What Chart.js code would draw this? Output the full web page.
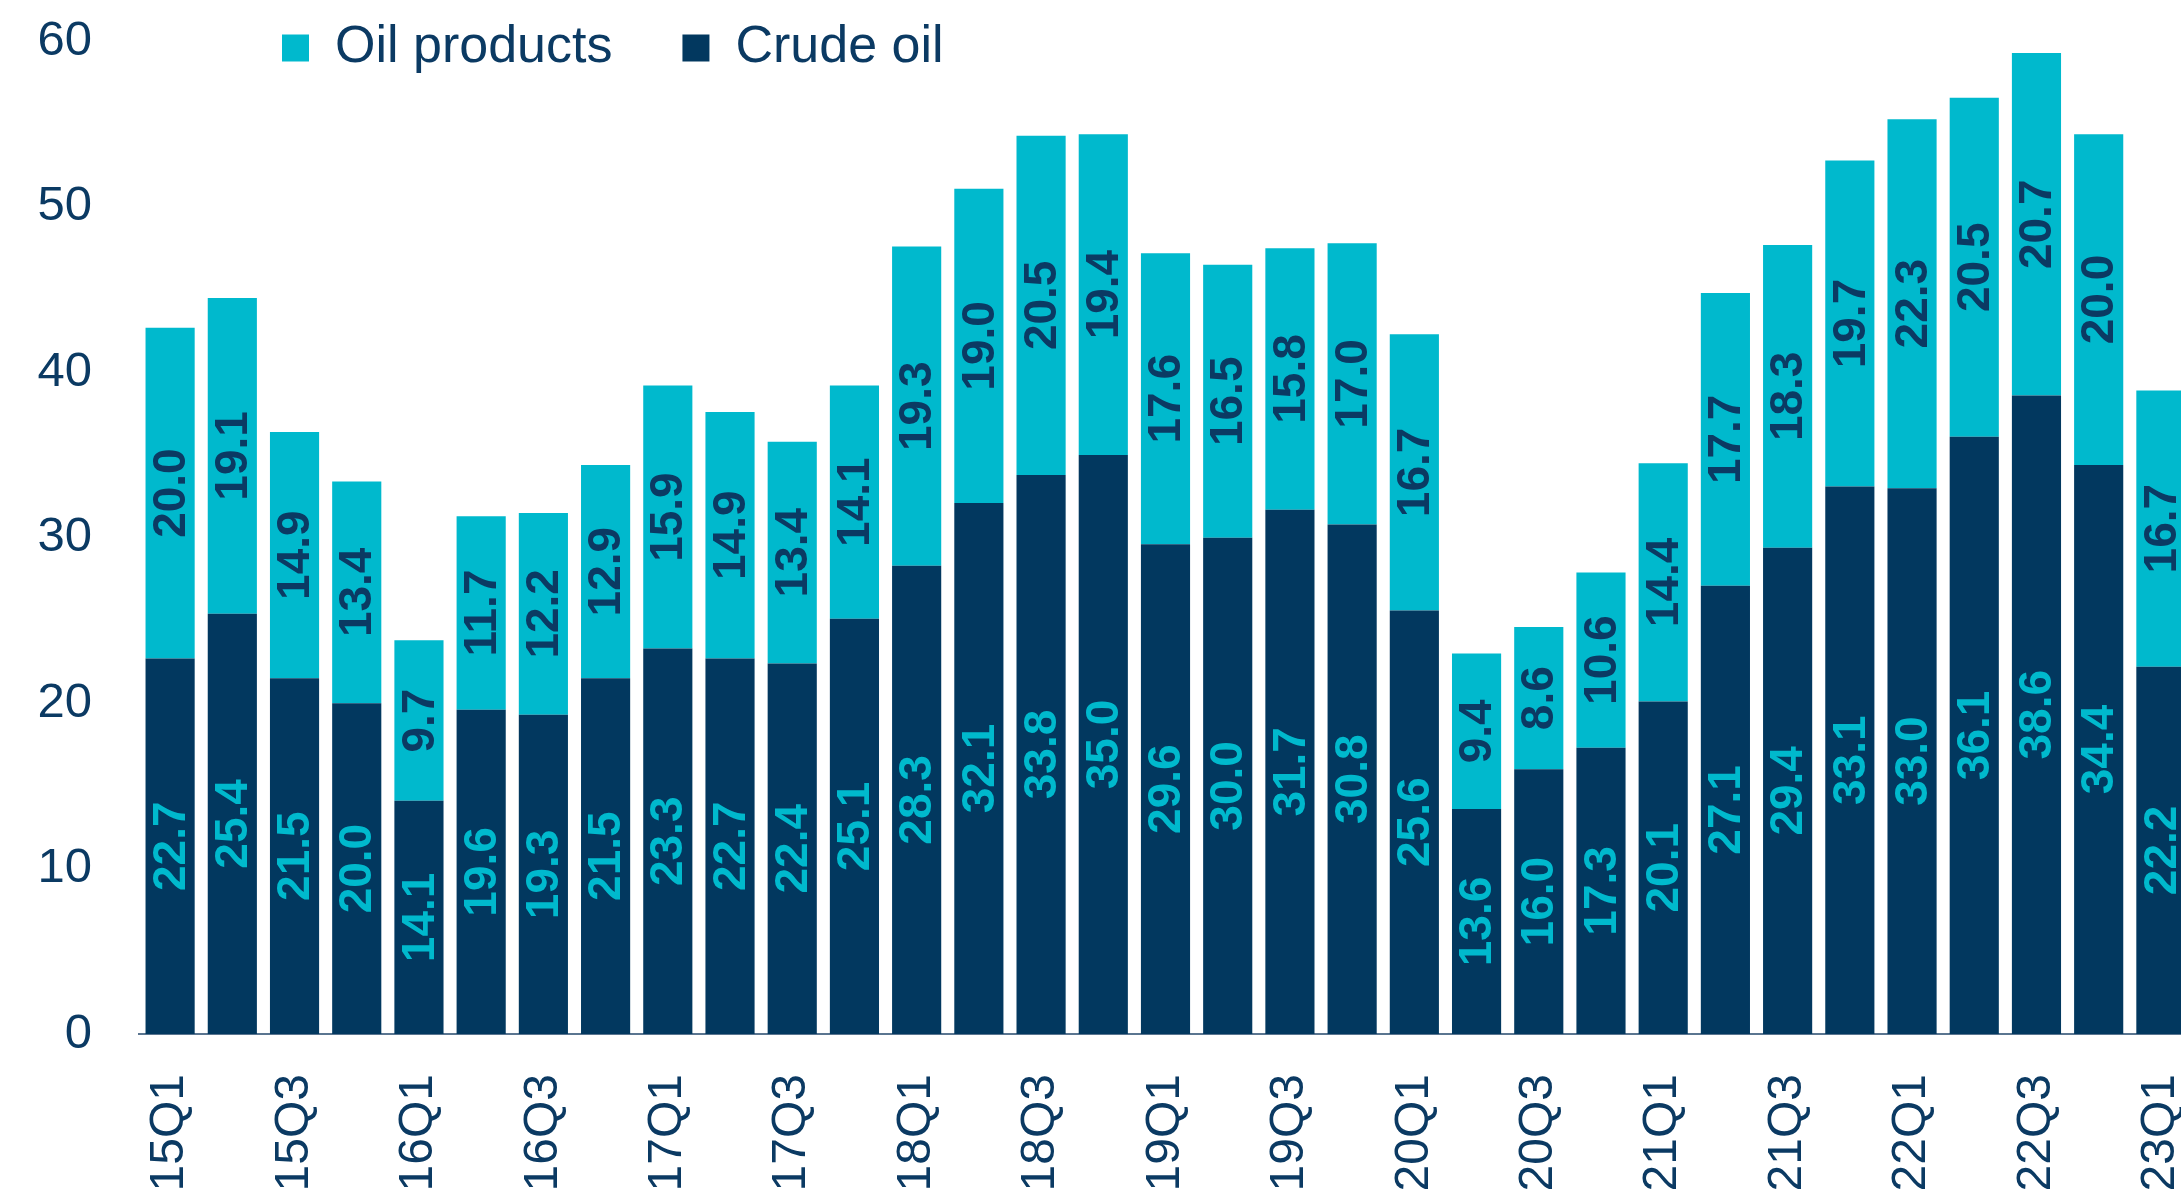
<!DOCTYPE html>
<html lang="en">
  <head>
    <meta charset="UTF-8" />
    <title>Oil imports</title>
    <script src="https://cdn.jsdelivr.net/npm/chart.js@4.4.0/dist/chart.umd.min.js"></script>
    <style>
      html, body { margin: 0; padding: 0; background: #fff; overflow: hidden; }
      canvas { display: block; }
    </style>
  </head>
  <body>
    <!-- wider than the window on purpose: the last bar is cut at the right edge -->
    <canvas id="myChart" width="2300" height="1201"></canvas>

    <script>
      const quarters = [
        "15Q1", "15Q2", "15Q3", "15Q4", "16Q1", "16Q2", "16Q3", "16Q4",
        "17Q1", "17Q2", "17Q3", "17Q4", "18Q1", "18Q2", "18Q3", "18Q4",
        "19Q1", "19Q2", "19Q3", "19Q4", "20Q1", "20Q2", "20Q3", "20Q4",
        "21Q1", "21Q2", "21Q3", "21Q4", "22Q1", "22Q2", "22Q3", "22Q4",
        "23Q1"
      ];
      const crudeOil = [
        22.7, 25.4, 21.5, 20.0, 14.1, 19.6, 19.3, 21.5,
        23.3, 22.7, 22.4, 25.1, 28.3, 32.1, 33.8, 35.0,
        29.6, 30.0, 31.7, 30.8, 25.6, 13.6, 16.0, 17.3,
        20.1, 27.1, 29.4, 33.1, 33.0, 36.1, 38.6, 34.4,
        22.2
      ];
      const oilProducts = [
        20.0, 19.1, 14.9, 13.4, 9.7, 11.7, 12.2, 12.9,
        15.9, 14.9, 13.4, 14.1, 19.3, 19.0, 20.5, 19.4,
        17.6, 16.5, 15.8, 17.0, 16.7, 9.4, 8.6, 10.6,
        14.4, 17.7, 18.3, 19.7, 22.3, 20.5, 20.7, 20.0,
        16.7
      ];

      const navy = "#02385f";
      const cyan = "#00b9cd";
      const textNavy = "#0b3a63";
      const fontFam = '"Liberation Sans", Arial, sans-serif';

      // values written sideways in the middle of each bar piece
      const barLabels = {
        id: "barLabels",
        afterDatasetsDraw(chart) {
          const ctx = chart.ctx;
          chart.data.datasets.forEach((ds, i) => {
            const meta = chart.getDatasetMeta(i);
            meta.data.forEach((bar, j) => {
              const p = bar.getProps(["x", "y", "base"], true);
              ctx.save();
              ctx.translate(p.x + 2, (p.y + p.base) / 2);
              ctx.rotate(-Math.PI / 2);
              ctx.font = "bold 46px " + fontFam;
              ctx.fillStyle = ds.labelColor;
              ctx.textAlign = "center";
              ctx.textBaseline = "middle";
              ctx.fillText(ds.data[j].toFixed(1), 0, 0);
              ctx.restore();
            });
          });
        },
      };

      // legend sits over the plot, next to the top tick, like in the original
      const legendPlace = {
        id: "legendPlace",
        afterLayout(chart) {
          const lg = chart.legend;
          const pad = lg.options.labels.padding;
          lg.left = 282 - pad;
          lg.top = 22 - pad;
          lg.right = lg.left + lg.width;
          lg.bottom = lg.top + lg.height;
        },
      };

      const data = {
        labels: quarters,
        datasets: [
          {
            label: "Crude oil",
            data: crudeOil,
            backgroundColor: navy,
            labelColor: cyan,
            barPercentage: 0.79,
            categoryPercentage: 1,
          },
          {
            label: "Oil products",
            data: oilProducts,
            backgroundColor: cyan,
            labelColor: textNavy,
            barPercentage: 0.79,
            categoryPercentage: 1,
          },
        ],
      };

      const config = {
        type: "bar",
        data,
        options: {
          responsive: false,
          animation: false,
          devicePixelRatio: 1,
          layout: { padding: { top: 0, right: 108, bottom: 0, left: 0 } },
          plugins: {
            tooltip: { enabled: false },
            legend: {
              position: "top",
              align: "start",
              reverse: true,
              labels: {
                boxWidth: 27,
                boxHeight: 27,
                padding: 70,
                color: textNavy,
                font: { size: 52, family: fontFam },
              },
            },
          },
          scales: {
            x: {
              stacked: true,
              grid: { display: false, drawTicks: false },
              border: { display: true, color: "#5a7590", width: 2 },
              afterFit: (s) => { s.height = 1201 - 1034; },
              ticks: {
                autoSkip: false,
                minRotation: 90,
                maxRotation: 90,
                padding: 40,
                color: textNavy,
                font: { size: 48, family: fontFam },
                callback: (v, i) => (i % 2 === 0 ? quarters[i] : ""),
              },
            },
            y: {
              stacked: true,
              min: 0,
              max: 60,
              grid: { display: false, drawTicks: false },
              border: { display: false },
              afterFit: (s) => {
                s.width = 139;
                s.paddingTop = 0;
                s.paddingBottom = 0;
              },
              ticks: {
                stepSize: 10,
                padding: 47,
                color: textNavy,
                font: { size: 49, family: fontFam },
              },
            },
          },
        },
        plugins: [barLabels, legendPlace],
      };

      var myChart = new Chart(document.getElementById("myChart"), config);

      // pull the plot top up so that 60 lands where it is in the original
      for (let k = 0; k < 3; k++) {
        const diff = 41.5 - myChart.scales.y.getPixelForValue(60);
        myChart.options.layout.padding.top += diff;
        myChart.update();
      }
    </script>
  </body>
</html>
